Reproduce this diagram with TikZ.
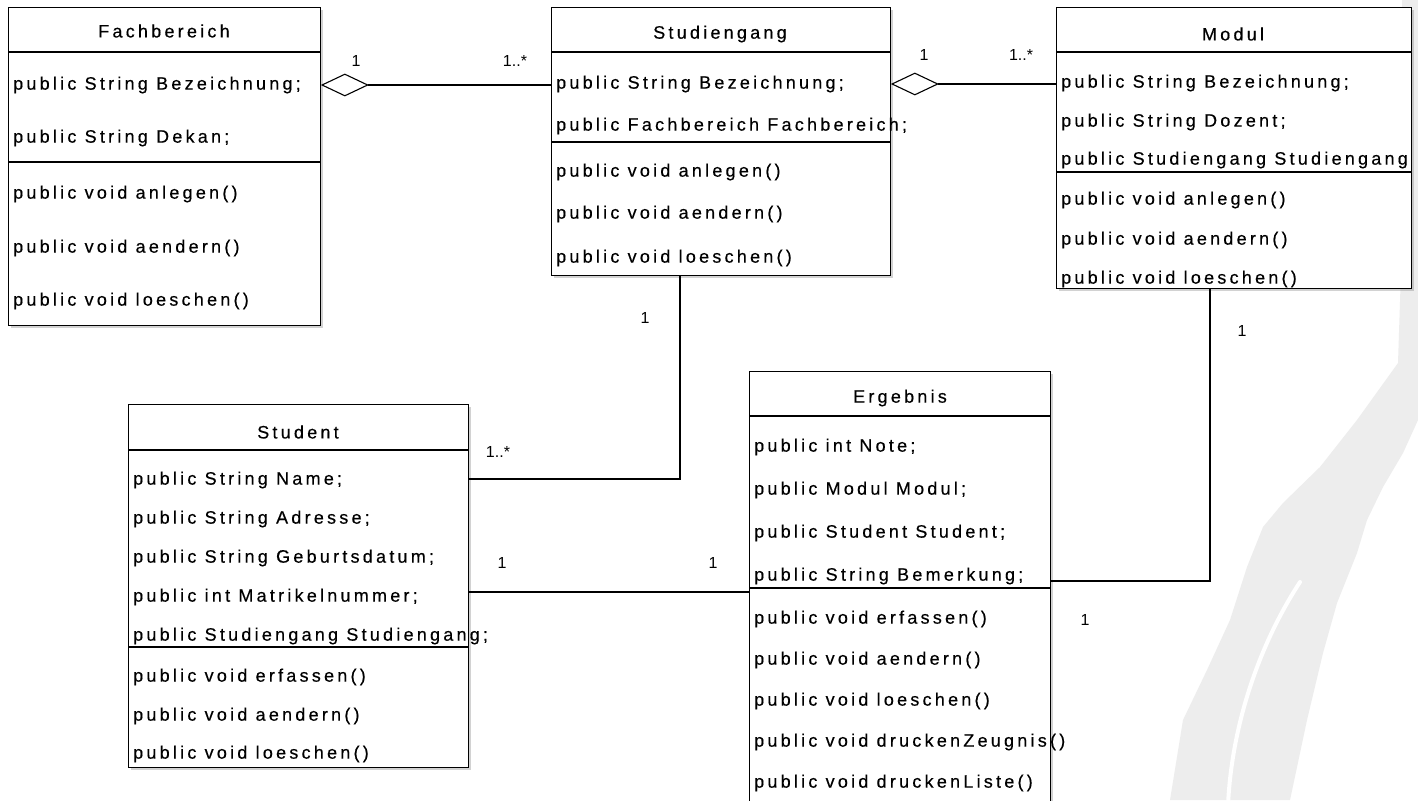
\documentclass[tikz,border=0pt]{standalone}
\usepackage{fontspec}
\usetikzlibrary{shapes.geometric,shadows}
\newfontfamily\umlfont{Liberation Sans}[LetterSpace=18,FakeBold=0.4]
\newfontfamily\lblfont{Liberation Sans}
\tikzset{
  classbox/.style={draw, line width=1.3pt, fill=white, anchor=north west, inner sep=0pt,
    drop shadow={shadow xshift=2.5pt, shadow yshift=-2.5pt, opacity=0.35, fill=gray}},
  sepline/.style={line width=1.3pt},
  member/.style={anchor=west, inner sep=0pt, font=\umlfont\fontsize{18}{21}\selectfont},
  ctitle/.style={anchor=center, inner sep=0pt, font=\umlfont\fontsize{18}{21}\selectfont},
  conn/.style={line width=1.1pt},
  mult/.style={anchor=center, inner sep=0pt, font=\lblfont\fontsize{16}{19}\selectfont},
  aggr/.style={diamond, draw, line width=1.1pt, fill=white, aspect=2, inner sep=0pt,
    minimum width=46pt, minimum height=22pt, anchor=west}
}
\begin{document}
\begin{tikzpicture}[x=1pt, y=-1pt]
\useasboundingbox (0,0) rectangle (1418,800);
\fill[white] (0,0) rectangle (1418,800);
% watermark band
\fill[gray!14] (1402,0) -- (1418,0) -- (1418,420) -- (1403,453) -- (1383,487) -- (1367,520)
  -- (1357,553) -- (1337,603) -- (1323,653) -- (1307,720) -- (1290,800) -- (1170,800)
  -- (1183,720) -- (1207,670) -- (1230,620) -- (1247,567) -- (1263,527) -- (1283,503)
  -- (1320,467) -- (1357,420) -- (1398,363) -- (1402,240) -- cycle;
\draw[white, line width=4pt, line cap=round] (1300,582) .. controls (1262,640) and (1232,720) .. (1228,805);

% Fachbereich
\node[classbox, minimum width=312pt, minimum height=318pt] (fach) at (8,7) {};
\draw[sepline] (8,52) -- (320,52);
\draw[sepline] (8,162) -- (320,162);
\node[ctitle] (fachT) at (164,31) {Fachbereich};
\node[member] (fach1) at (13,85) {public String Bezeichnung;};
\node[member] (fach2) at (13,138) {public String Dekan;};
\node[member] (fach3) at (13,194) {public void anlegen()};
\node[member] (fach4) at (13,248) {public void aendern()};
\node[member] (fach5) at (13,301) {public void loeschen()};

% Studiengang
\node[classbox, minimum width=339pt, minimum height=268pt] (sg) at (551,7) {};
\draw[sepline] (551,52) -- (890,52);
\draw[sepline] (551,142) -- (890,142);
\node[ctitle] (sgT) at (720,34) {Studiengang};
\node[member] (sg1) at (556,84) {public String Bezeichnung;};
\node[member] (sg2) at (556,126) {public Fachbereich Fachbereich;};
\node[member] (sg3) at (556,172) {public void anlegen()};
\node[member] (sg4) at (556,214) {public void aendern()};
\node[member] (sg5) at (556,258) {public void loeschen()};

% Modul
\node[classbox, minimum width=355pt, minimum height=281pt] (mod) at (1056,7) {};
\draw[sepline] (1056,52) -- (1411,52);
\draw[sepline] (1056,172) -- (1411,172);
\node[ctitle] (modT) at (1233,34) {Modul};
\node[member] (mod1) at (1061,83) {public String Bezeichnung;};
\node[member] (mod2) at (1061,122) {public String Dozent;};
\node[member] (mod3) at (1061,160) {public Studiengang Studiengang};
\node[member] (mod4) at (1061,200) {public void anlegen()};
\node[member] (mod5) at (1061,240) {public void aendern()};
\node[member] (mod6) at (1061,279) {public void loeschen()};

% Student
\node[classbox, minimum width=340pt, minimum height=363pt] (stu) at (128,404) {};
\draw[sepline] (128,450) -- (468,450);
\draw[sepline] (128,647) -- (468,647);
\node[ctitle] (stuT) at (298,432) {Student};
\node[member] (stu1) at (133,480) {public String Name;};
\node[member] (stu2) at (133,519) {public String Adresse;};
\node[member] (stu3) at (133,558) {public String Geburtsdatum;};
\node[member] (stu4) at (133,597) {public int Matrikelnummer;};
\node[member] (stu5) at (133,636) {public Studiengang Studiengang;};
\node[member] (stu6) at (133,677) {public void erfassen()};
\node[member] (stu7) at (133,716) {public void aendern()};
\node[member] (stu8) at (133,754) {public void loeschen()};

% Ergebnis
\node[classbox, minimum width=301pt, minimum height=439pt] (erg) at (749,371) {};
\draw[sepline] (749,416) -- (1050,416);
\draw[sepline] (749,588) -- (1050,588);
\node[ctitle] (ergT) at (900,398) {Ergebnis};
\node[member] (erg1) at (754,447) {public int Note;};
\node[member] (erg2) at (754,490) {public Modul Modul;};
\node[member] (erg3) at (754,533) {public Student Student;};
\node[member] (erg4) at (754,576) {public String Bemerkung;};
\node[member] (erg5) at (754,619) {public void erfassen()};
\node[member] (erg6) at (754,660) {public void aendern()};
\node[member] (erg7) at (754,701) {public void loeschen()};
\node[member] (erg8) at (754,742) {public void druckenZeugnis()};
\node[member] (erg9) at (754,783) {public void druckenListe()};

% Fachbereich <>-- Studiengang
\node[aggr] (d1) at (fach.east |- fach1) {};
\draw[conn] (d1.east) -- (sg.west |- d1.east);
\node[mult] (m1) at (356,61) {1};
\node[mult] (m2) at (515,61) {1..*};

% Studiengang <>-- Modul
\node[aggr] (d2) at (sg.east |- sg1) {};
\draw[conn] (d2.east) -- (mod.west |- d2.east);
\node[mult] (m3) at (924,55) {1};
\node[mult] (m4) at (1021,55) {1..*};

% Studiengang -- Student
\coordinate (c1) at (680,479);
\draw[conn] (stu.east |- c1) -- (c1) -- (c1 |- sg.south);
\node[mult] (m5) at (645,318) {1};
\node[mult] (m6) at (498,452) {1..*};

% Student -- Ergebnis
\coordinate (c2) at (600,592);
\draw[conn] (stu.east |- c2) -- (erg.west |- c2);
\node[mult] (m7) at (502,563) {1};
\node[mult] (m8) at (713,563) {1};

% Ergebnis -- Modul
\coordinate (c3) at (1210,581);
\draw[conn] (erg.east |- c3) -- (c3) -- (c3 |- mod.south);
\node[mult] (m9) at (1242,331) {1};
\node[mult] (m10) at (1085,620) {1};
\end{tikzpicture}
\end{document}
